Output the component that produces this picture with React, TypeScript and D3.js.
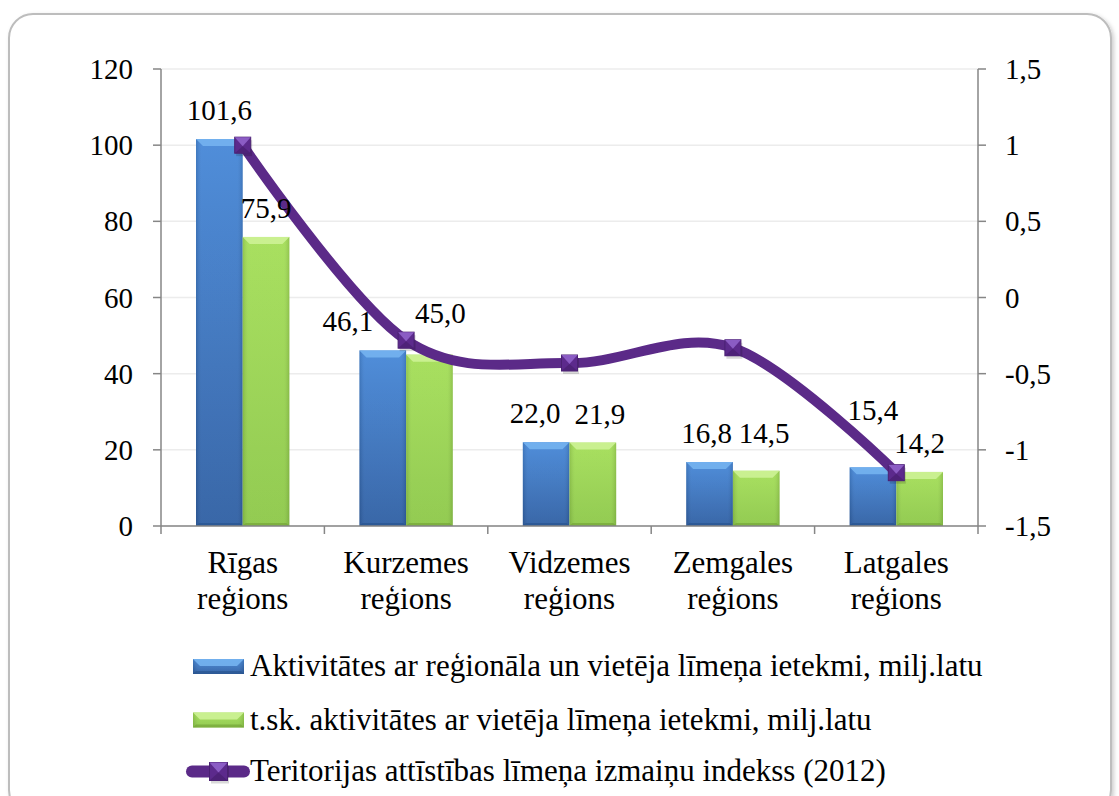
import React from "react";
import * as d3 from "d3";

const categories: string[][] = [
  ["Rīgas", "reģions"],
  ["Kurzemes", "reģions"],
  ["Vidzemes", "reģions"],
  ["Zemgales", "reģions"],
  ["Latgales", "reģions"],
];
const seriesNames = [
  "Aktivitātes ar reģionāla un vietēja līmeņa ietekmi, milj.latu",
  "t.sk. aktivitātes ar vietēja līmeņa ietekmi, milj.latu",
  "Teritorijas attīstības līmeņa izmaiņu indekss (2012)",
];
const regionalValues = [101.6, 46.1, 22.0, 16.8, 15.4];
const localValues = [75.9, 45.0, 21.9, 14.5, 14.2];
const indexValues = [1.0, -0.28, -0.43, -0.33, -1.15];
const leftTicks = [0, 20, 40, 60, 80, 100, 120];
const rightTicks = [-1.5, -1, -0.5, 0, 0.5, 1, 1.5];

// layout-only nudges for data labels (dx, dy) per series / category
const LABEL_NUDGE: [number, number][][] = [
  [[0, 0], [-35, 0], [-11, 0], [-3, 0], [0, -28]],
  [[0, 0], [11, -13], [7, 0], [8, -9], [0, 0]],
];

const W = 1119;
const H = 796;
const L = 161;
const R = 978;
const T = 69;
const B = 526;

const fmt = (v: number) => v.toFixed(1).replace(".", ",");
const fmtR = (v: number) => String(v).replace(".", ",");

export default function App() {
  const x0 = d3.scaleBand<number>().domain(d3.range(categories.length)).range([L, R]).padding(0);
  const bw = x0.bandwidth();
  const barW = bw * (1 / 3.5);
  const yL = d3.scaleLinear().domain([0, 120]).range([B, T]);
  const yR = d3.scaleLinear().domain([-1.5, 1.5]).range([B, T]);
  const cx = (i: number) => (x0(i) as number) + bw / 2;

  const line = d3
    .line<number>()
    .x((_, i) => cx(i))
    .y((d) => yR(d))
    .curve(d3.curveCardinal.tension(0));

  const series = [regionalValues, localValues];
  const grads = ["blueG", "greenG"];
  const tops = ["#74b2ef", "#cdf296"];
  const bottoms = ["#24508a", "#6f9e34"];

  const bar = (x: number, y: number, w: number, h: number, s: number, key: string) => {
    const bv = Math.min(7, h / 2);
    return (
      <g key={key}>
        <rect x={x} y={y} width={w} height={h} fill={`url(#${grads[s]})`} />
        <rect x={x} y={y} width={w} height={h} fill="url(#sideShade)" />
        <path
          d={`M${x},${y} L${x + w},${y} L${x + w - bv},${y + bv} L${x + bv},${y + bv} Z`}
          fill={tops[s]}
          opacity={0.9}
        />
        <path
          d={`M${x},${y + h} L${x + w},${y + h} L${x + w - 3},${y + h - 3} L${x + 3},${y + h - 3} Z`}
          fill={bottoms[s]}
          opacity={0.6}
        />
      </g>
    );
  };

  const marker = (x: number, y: number, s: number, key: string) => (
    <g key={key}>
      <rect x={x - s / 2 + 1.5} y={y - s / 2 + 3} width={s} height={s} fill="#000" opacity={0.15} />
      <rect x={x - s / 2} y={y - s / 2} width={s} height={s} fill="#5c2a8c" stroke="#4a2172" strokeWidth={1} />
      <path d={`M${x - s / 2},${y - s / 2} L${x + s / 2},${y - s / 2} L${x},${y + 1} Z`} fill="#8b5cc4" />
      <path d={`M${x - s / 2},${y + s / 2} L${x + s / 2},${y + s / 2} L${x},${y + 1} Z`} fill="#4e2278" />
    </g>
  );

  const legendY = [666.5, 720, 771.5];

  return (
    <svg width={W} height={H} style={{ position: "absolute", left: 0, top: 0, background: "#fff" }}>
      <style>{`
        text.lbl { font-family: "Liberation Serif", Tinos, "Times New Roman", Times, serif !important; fill: #000; }
        text.tk { font-size: 29px !important; }
        text.dl { font-size: 29px !important; }
        text.ct { font-size: 31px !important; }
        text.lg { font-size: 31px !important; }
      `}</style>
      <defs>
        <linearGradient id="blueG" x1="0" y1="0" x2="0" y2="1">
          <stop offset="0" stopColor="#4788d8" />
          <stop offset="1" stopColor="#2f5fa3" />
        </linearGradient>
        <linearGradient id="greenG" x1="0" y1="0" x2="0" y2="1">
          <stop offset="0" stopColor="#a4de58" />
          <stop offset="1" stopColor="#8dc849" />
        </linearGradient>
        <linearGradient id="sideShade" x1="0" y1="0" x2="1" y2="0">
          <stop offset="0" stopColor="#000" stopOpacity={0.12} />
          <stop offset="0.12" stopColor="#fff" stopOpacity={0.05} />
          <stop offset="0.88" stopColor="#fff" stopOpacity={0.05} />
          <stop offset="1" stopColor="#000" stopOpacity={0.12} />
        </linearGradient>
        <filter id="shadow" x="-5%" y="-5%" width="110%" height="110%">
          <feDropShadow dx="2" dy="2" stdDeviation="2" floodColor="#000" floodOpacity="0.2" />
        </filter>
      </defs>

      <rect x={9} y={14} width={1102} height={800} rx={24} ry={24} fill="#fff" stroke="#bdbdbd" strokeWidth={2} filter="url(#shadow)" />

      {leftTicks.map((t) => (
        <line key={`g${t}`} x1={L} x2={R} y1={yL(t)} y2={yL(t)} stroke="#ececec" strokeWidth={1.5} />
      ))}

      {series.map((vals, s) =>
        vals.map((v, i) => {
          const x = cx(i) - barW + s * barW;
          return bar(x, yL(v), barW, B - yL(v), s, `b${s}-${i}`);
        })
      )}

      <g stroke="#868686" strokeWidth={1.5}>
        <line x1={L} x2={L} y1={T} y2={B} />
        <line x1={R} x2={R} y1={T} y2={B} />
        <line x1={L} x2={R} y1={B} y2={B} />
        {leftTicks.map((t) => (
          <line key={`lt${t}`} x1={L - 8} x2={L} y1={yL(t)} y2={yL(t)} />
        ))}
        {rightTicks.map((t) => (
          <line key={`rt${t}`} x1={R} x2={R + 8} y1={yR(t)} y2={yR(t)} />
        ))}
        {d3.range(categories.length + 1).map((i) => (
          <line key={`ct${i}`} x1={L + i * bw} x2={L + i * bw} y1={B} y2={B + 8} />
        ))}
      </g>

      {leftTicks.map((t) => (
        <text className="lbl tk" key={`ll${t}`} x={133} y={yL(t) + 10} textAnchor="end">
          {t}
        </text>
      ))}
      {rightTicks.map((t) => (
        <text className="lbl tk" key={`rl${t}`} x={1005} y={yR(t) + 10} textAnchor="start">
          {fmtR(t)}
        </text>
      ))}
      {categories.map((c, i) => (
        <g key={`cl${i}`}>
          <text className="lbl ct" x={cx(i)} y={573} textAnchor="middle">
            {c[0]}
          </text>
          <text className="lbl ct" x={cx(i)} y={609} textAnchor="middle">
            {c[1]}
          </text>
        </g>
      ))}

      <path d={line(indexValues) || ""} fill="none" stroke="#5b2a88" strokeWidth={10} strokeLinecap="round" />
      {indexValues.map((v, i) => marker(cx(i), yR(v), 16, `m${i}`))}

      {series.map((vals, s) =>
        vals.map((v, i) => {
          const x = cx(i) - barW + s * barW + barW / 2;
          const [dx, dy] = LABEL_NUDGE[s][i];
          return (
            <text className="lbl dl" key={`dl${s}-${i}`} textAnchor="middle" x={x + dx} y={yL(v) - 19 + dy}>
              {fmt(v)}
            </text>
          );
        })
      )}

      {[0, 1].map((s) => (
        <g key={`lg${s}`}>
          {bar(193, legendY[s] - 7.5, 51, 15, s, `lb${s}`)}
          <text className="lbl lg" x={250} y={legendY[s] + 9.5}>
            {seriesNames[s]}
          </text>
        </g>
      ))}
      <line x1={192} x2={244} y1={legendY[2]} y2={legendY[2]} stroke="#5b2a88" strokeWidth={12} strokeLinecap="round" />
      {marker(218.5, legendY[2], 18, "lm")}
      <text className="lbl lg" x={250} y={legendY[2] + 9.5}>
        {seriesNames[2]}
      </text>
    </svg>
  );
}
